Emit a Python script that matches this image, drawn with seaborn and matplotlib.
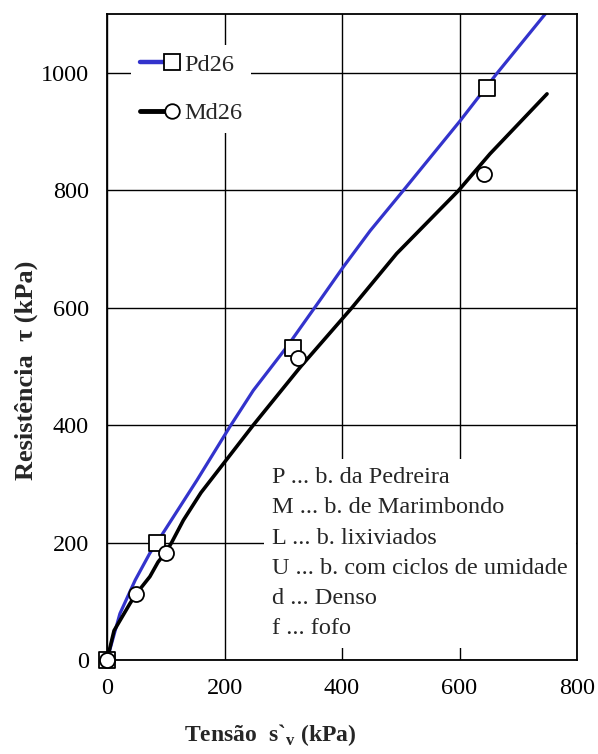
import numpy as np
import pandas as pd
import matplotlib
matplotlib.use("Agg")
import matplotlib.pyplot as plt
import seaborn as sns
from matplotlib.lines import Line2D
from matplotlib.legend_handler import HandlerLine2D

# ---- data ----
pd_curve_x = [0, 22, 48, 73, 85, 153, 209, 249, 306, 362, 402, 448, 504, 601, 663, 750]
pd_curve_y = [0, 79, 136, 182, 200, 306, 397, 459, 533, 612, 669, 731, 799, 918, 998, 1105]
pd_pts_x = [0, 85, 317, 647]
pd_pts_y = [0, 200, 531, 974]

md_curve_x = [0, 12, 39, 50, 73, 87, 100, 110, 130, 160, 249, 330, 417, 493, 598, 652, 749]
md_curve_y = [0, 50, 96, 113, 142, 167, 183, 200, 238, 285, 400, 500, 600, 692, 799, 862, 964]
md_pts_x = [0, 50, 100, 325, 642]
md_pts_y = [0, 113, 183, 515, 828]

series_labels = ["Pd26", "Md26"]
notes = ["P ... b. da Pedreira", "M ... b. de Marimbondo", "L ... b. lixiviados",
         "U ... b. com ciclos de umidade", "d ... Denso", "f ... fofo"]
x_ticks = [0, 200, 400, 600, 800]
y_ticks = [0, 200, 400, 600, 800, 1000]

BLUE = "#3333CC"

sns.set_style("white")
plt.rcParams["font.family"] = ["Liberation Serif", "DejaVu Serif"]
plt.rcParams["mathtext.fontset"] = "custom"
plt.rcParams["mathtext.rm"] = "Liberation Serif"
plt.rcParams["mathtext.bf"] = "Liberation Serif:bold"

fig = plt.figure(figsize=(5.98, 7.54), dpi=100)
ax = fig.add_axes([107/598, 1-660/754, 470/598, 646/754])

df_pd = pd.DataFrame({"x": pd_curve_x, "y": pd_curve_y})
df_md = pd.DataFrame({"x": md_curve_x, "y": md_curve_y})
sns.lineplot(data=df_pd, x="x", y="y", sort=False, color=BLUE, lw=2.3, ax=ax, zorder=2)
sns.lineplot(data=df_md, x="x", y="y", sort=False, color="black", lw=2.6, ax=ax, zorder=2.1)

pts_pd = pd.DataFrame({"x": pd_pts_x, "y": pd_pts_y})
pts_md = pd.DataFrame({"x": md_pts_x, "y": md_pts_y})
sns.scatterplot(data=pts_pd, x="x", y="y", marker="s", s=11.5**2, facecolor="white",
                edgecolor="black", linewidth=1.3, ax=ax, zorder=3, clip_on=False)
sns.scatterplot(data=pts_md, x="x", y="y", marker="o", s=10.8**2, facecolor="white",
                edgecolor="black", linewidth=1.3, ax=ax, zorder=3.1, clip_on=False)

ax.set_xlim(0, 800)
ax.set_ylim(0, 1100)
ax.set_xticks(x_ticks)
ax.set_yticks(y_ticks)
ax.grid(True, color="black", lw=1.0)
ax.set_axisbelow(True)
for sp in ax.spines.values():
    sp.set_visible(True)
    sp.set_color("black")
    sp.set_linewidth(1.3)
ax.tick_params(direction="out", length=7, width=1.1, labelsize=17.5, pad=6, colors="black")

ax.set_xlabel("Tensão  s`$_{\\mathbf{v}}$ (kPa)", fontsize=17, fontweight="bold")
ax.set_ylabel("Resistência  τ (kPa)", fontsize=19, fontweight="bold")
ax.xaxis.set_label_coords((270-107)/470, (660-722)/646)
ax.yaxis.set_label_coords((38-107)/470, (660-370)/646)

class EndMarkerHandler(HandlerLine2D):
    def create_artists(self, legend, orig_handle, xdescent, ydescent, width, height, fontsize, trans):
        arts = super().create_artists(legend, orig_handle, xdescent, ydescent, width, height, fontsize, trans)
        for a in arts:
            a.set_markevery([2])
        return arts

h1 = Line2D([], [], color=BLUE, lw=3.2, marker="s", markersize=11.5,
            markerfacecolor="white", markeredgecolor="black", markeredgewidth=1.3)
h2 = Line2D([], [], color="black", lw=3.5, marker="o", markersize=10.5,
            markerfacecolor="white", markeredgecolor="black", markeredgewidth=1.3)
leg = ax.legend([h1, h2], series_labels, loc="upper left",
                bbox_to_anchor=((131-107)/470, (660-45)/646), numpoints=1,
                handler_map={Line2D: EndMarkerHandler()}, fontsize=17.5,
                frameon=True, fancybox=False, framealpha=1, facecolor="white",
                edgecolor="none", borderpad=0.35, handlelength=1.35, handletextpad=0.5,
                labelspacing=1.1, borderaxespad=0)
leg.set_zorder(5)

ax.text((272-107)/470, (660-467)/646, "\n".join(notes), transform=ax.transAxes,
        ha="left", va="top", fontsize=17.5, linespacing=1.58,
        bbox=dict(facecolor="white", edgecolor="none", pad=6), zorder=4)

fig.savefig("out.png", dpi=100)
